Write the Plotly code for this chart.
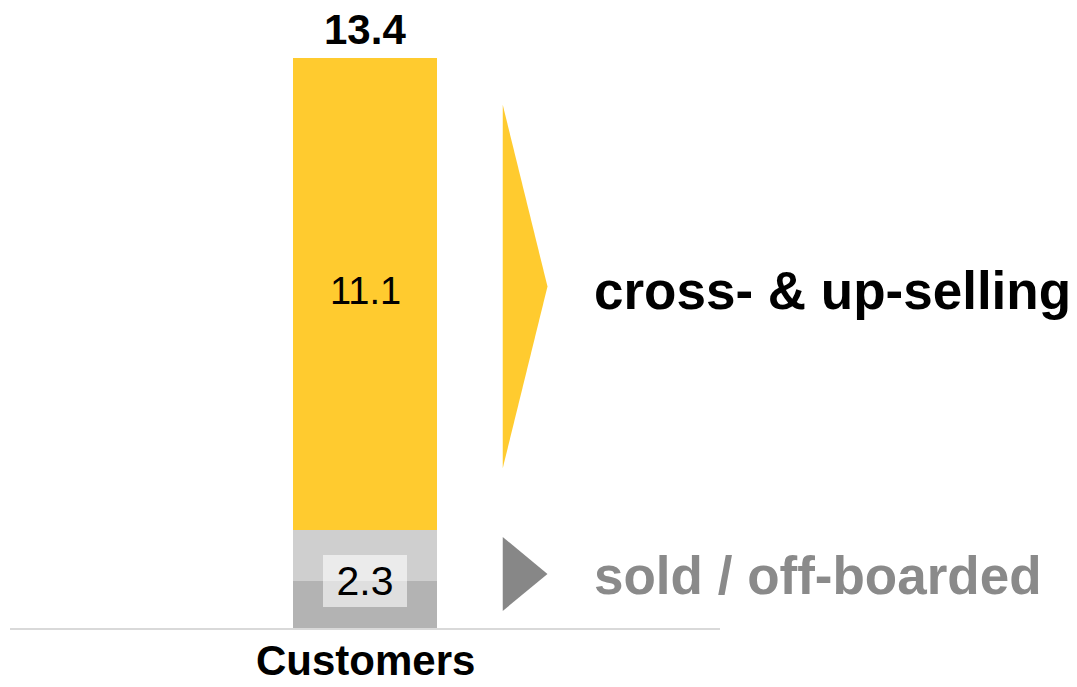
import plotly.graph_objects as go

# Stacked customer bar: grey base (sold / off-boarded) and yellow top (cross- & up-selling)
categories = ["Customers"]
grey_lower = [1.1]
grey_upper = [1.2]
cross_up = [11.1]

sold_total = [a + b for a, b in zip(grey_lower, grey_upper)]
bar_total = [s + c for s, c in zip(sold_total, cross_up)]

YELLOW = "#FFCB2F"
GREY_DARK = "#B3B3B3"
GREY_LIGHT = "#CFCFCF"
ARROW_GREY = "#878787"
TEXT_GREY = "#8A8A8A"
FONT = "Liberation Sans, Arial, sans-serif"

BAR_W = 0.203

fig = go.Figure()
for vals, col in [(grey_lower, GREY_DARK), (grey_upper, GREY_LIGHT), (cross_up, YELLOW)]:
    fig.add_trace(go.Bar(
        x=categories, y=vals, width=BAR_W,
        marker=dict(color=col, line=dict(width=0)),
        hoverinfo="skip", showlegend=False,
    ))

annotations = []
# total on top
annotations.append(dict(
    x=categories[0], y=bar_total[0], xref="x", yref="y",
    text=f"<b>{bar_total[0]:.1f}</b>",
    showarrow=False, yanchor="bottom", yshift=3,
    font=dict(family=FONT, size=42, color="black"),
))
# yellow segment value
annotations.append(dict(
    x=categories[0], y=sold_total[0] + cross_up[0] / 2, xref="x", yref="y",
    text=f"{cross_up[0]:.1f}", showarrow=False, yanchor="middle", yshift=3,
    font=dict(family=FONT, size=38, color="black"),
))
# grey segment value in a translucent box
annotations.append(dict(
    x=categories[0], y=sold_total[0] / 2, xref="x", yref="y",
    text=f"{sold_total[0]:.1f}", showarrow=False, yanchor="middle", yshift=-2,
    width=84, height=52, borderpad=0, borderwidth=0, valign="middle",
    bgcolor="rgba(255,255,255,0.58)",
    font=dict(family=FONT, size=41, color="black"),
))
# category label under the baseline
annotations.append(dict(
    x=categories[0], y=0, xref="x", yref="paper",
    text=f"<b>{categories[0]}</b>", showarrow=False, yanchor="bottom",
    yshift=-58,
    font=dict(family=FONT, size=42, color="black"),
))
# side labels
annotations.append(dict(
    x=0.82, y=sold_total[0] + cross_up[0] / 2, xref="paper", yref="y",
    text="<b>cross- &amp; up-selling</b>", showarrow=False,
    xanchor="left", yanchor="middle", yshift=3,
    font=dict(family=FONT, size=53, color="black"),
))
annotations.append(dict(
    x=0.82, y=sold_total[0] / 2, xref="paper", yref="y",
    text="<b>sold / off-boarded</b>", showarrow=False,
    xanchor="left", yanchor="middle", yshift=4,
    font=dict(family=FONT, size=53, color=TEXT_GREY),
))


def arrow_path(base, seg, lo, hi, x0=0.694, x1=0.757):
    y_lo = base + lo * seg
    y_hi = base + hi * seg
    y_mid = (y_lo + y_hi) / 2
    return f"M {x0},{y_lo} L {x0},{y_hi} L {x1},{y_mid} Z"


shapes = [
    dict(type="path", xref="paper", yref="y",
         path=arrow_path(sold_total[0], cross_up[0], 0.131, 0.90),
         fillcolor=YELLOW, line=dict(width=0)),
    dict(type="path", xref="paper", yref="y",
         path=arrow_path(0, sold_total[0], 0.174, 0.93),
         fillcolor=ARROW_GREY, line=dict(width=0)),
]

fig.update_layout(
    barmode="stack",
    width=1077, height=687,
    margin=dict(l=10, r=357, t=32, b=59),
    paper_bgcolor="white", plot_bgcolor="white",
    annotations=annotations, shapes=shapes,
    xaxis=dict(range=[-0.5, 0.5], showticklabels=False, ticks="",
               showgrid=False, zeroline=False,
               showline=True, linecolor="#D9D9D9", linewidth=2),
    yaxis=dict(range=[0, 14], visible=False, showgrid=False, zeroline=False),
)

fig.write_html("out.html")
